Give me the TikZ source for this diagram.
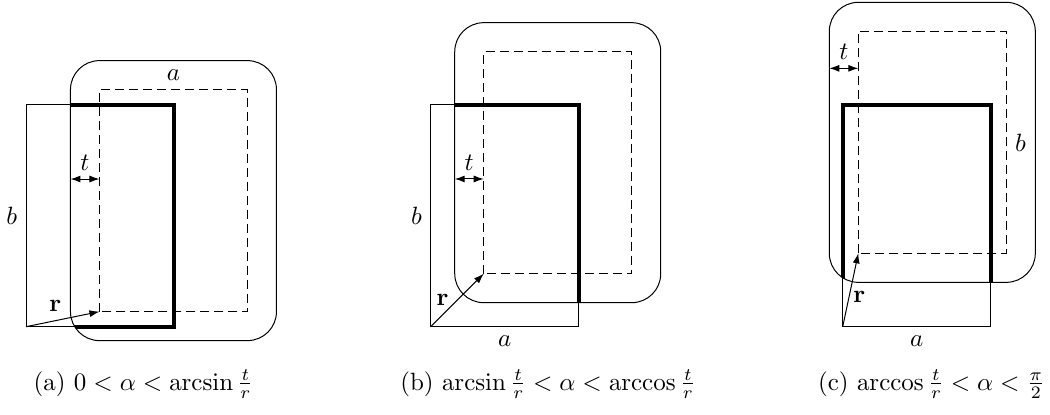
\documentclass[tikz,border=0pt]{standalone}
\usepackage{amsmath}
\usepackage{amssymb}
\usepackage{tikz}
\usetikzlibrary{positioning,calc,arrows.meta}

\begin{document}
\begin{tikzpicture}[x=0.4pt,y=0.4pt,
    thinrect/.style={draw=black, line width=0.4pt},
    dashrect/.style={draw=black, line width=0.45pt, dash pattern=on 3.6pt off 2pt},
    roundrect/.style={draw=black, line width=0.4pt, rounded corners=11.6pt},
    thickrect/.style={draw=black, line width=1.6pt, line join=miter},
    radius arrow/.style={line width=0.4pt, -{Latex[length=4pt,width=2.8pt]}},
    gap arrow/.style={line width=0.4pt, {Latex[length=4pt,width=2.8pt]}-{Latex[length=4pt,width=2.8pt]}},
    caption/.style={anchor=base, inner sep=0pt}]
  \useasboundingbox (0,0) rectangle (1050,414);

  % (a)
  \begin{scope}[shift={(26,87.3)}]
    \coordinate (oa) at (0,0);
    \coordinate (da) at (11.6:75);
    \coordinate (ua) at ($(da)+(-29,-29)$);
    \draw[thinrect] (oa) rectangle ++(148,222) coordinate (oa2);
    \draw[dashrect] (da) rectangle ++(148,222) coordinate (da2);
    \draw[roundrect] (ua) rectangle ++(206,280);
    \begin{scope}
      \clip[rounded corners=11.6pt] (ua) rectangle ++(206,280);
      \draw[thickrect] (oa) rectangle (oa2);
    \end{scope}
    \draw[radius arrow] (oa) -- node[pos=.4, above] (ra) {$\mathbf{r}$} (da);
    \coordinate (tra) at ($(da)+(0,132.6)$);
    \coordinate (tla) at ($(tra)+(-29,0)$);
    \draw[gap arrow] (tla) -- node[above] (ta) {$t$} (tra);
    \node[above] (aa) at ($(da|-da2)!.5!(da2)$) {$a$};
    \node[left] (ba) at ($(oa)!.5!(oa|-oa2)$) {$b$};
  \end{scope}

  % (b)
  \begin{scope}[shift={(430.7,87.3)}]
    \coordinate (ob) at (0,0);
    \coordinate (db) at (45:75);
    \coordinate (ub) at ($(db)+(-29,-29)$);
    \draw[thinrect] (ob) rectangle ++(148,222) coordinate (ob2);
    \draw[dashrect] (db) rectangle ++(148,222) coordinate (db2);
    \draw[roundrect] (ub) rectangle ++(206,280);
    \begin{scope}
      \clip[rounded corners=11.6pt] (ub) rectangle ++(206,280);
      \draw[thickrect] (ob) rectangle (ob2);
    \end{scope}
    \draw[radius arrow] (ob) -- node[pos=.5, left] (rb) {$\mathbf{r}$} (db);
    \coordinate (trb) at ($(db)+(0,94.7)$);
    \coordinate (tlb) at ($(trb)+(-29,0)$);
    \draw[gap arrow] (tlb) -- node[above] (tb) {$t$} (trb);
    \node[below] (ab) at ($(ob)!.5!(ob2|-ob)$) {$a$};
    \node[left] (bb) at ($(ob)!.5!(ob|-ob2)$) {$b$};
  \end{scope}

  % (c)
  \begin{scope}[shift={(842.7,87.3)}]
    \coordinate (oc) at (0,0);
    \coordinate (dc) at (78:75);
    \coordinate (uc) at ($(dc)+(-29,-29)$);
    \draw[thinrect] (oc) rectangle ++(148,222) coordinate (oc2);
    \draw[dashrect] (dc) rectangle ++(148,222) coordinate (dc2);
    \draw[roundrect] (uc) rectangle ++(206,280);
    \begin{scope}
      \clip[rounded corners=11.6pt] (uc) rectangle ++(206,280);
      \draw[thickrect] (oc) rectangle (oc2);
    \end{scope}
    \draw[radius arrow] (oc) -- node[pos=.41, right, inner sep=1.5pt] (rc) {$\mathbf{r}$} (dc);
    \coordinate (trc) at ($(dc)+(0,185)$);
    \coordinate (tlc) at ($(trc)+(-29,0)$);
    \draw[gap arrow] (tlc) -- node[above] (tc) {$t$} (trc);
    \node[below] (ac) at ($(oc)!.5!(oc2|-oc)$) {$a$};
    \node[right] (bc) at ($(dc2|-dc)!.5!(dc2)$) {$b$};
  \end{scope}

  \node[caption] (capa) at (143.5,24) {(a) $0<\alpha<\arcsin\frac{t}{r}$};
  \node[caption] (capb) at (548,24) {(b) $\arcsin\frac{t}{r}<\alpha<\arccos\frac{t}{r}$};
  \node[caption] (capc) at (931.5,24) {(c) $\arccos\frac{t}{r}<\alpha<\frac{\pi}{2}$};
\end{tikzpicture}
\end{document}
